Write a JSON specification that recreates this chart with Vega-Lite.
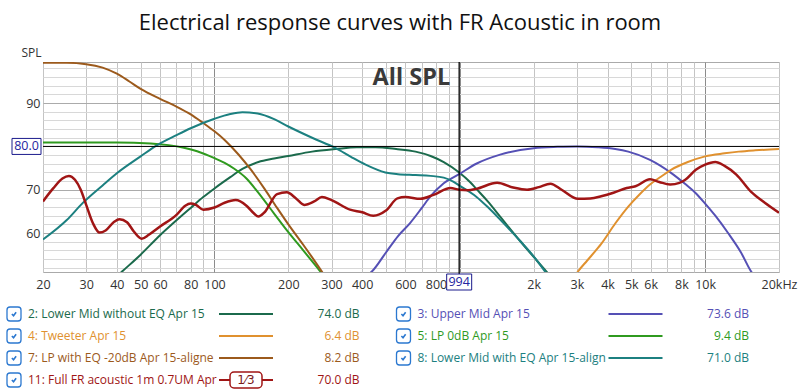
{
  "$schema": "https://vega.github.io/schema/vega-lite/v6.json",
  "width": 736,
  "height": 210,
  "autosize": {"type": "none"},
  "padding": {"left": 43, "top": 62, "right": 21, "bottom": 120},
  "title": {"text": "Electrical response curves with FR Acoustic in room", "font": "Open Sans", "fontSize": 22, "fontWeight": "normal", "color": "#111111", "anchor": "middle", "dx": -11, "dy": 23, "offset": 17, "baseline": "alphabetic"},
  "config": {"view": {"stroke": "#aaaaaa"}, "font": "Open Sans"},
  "datasets": {
    "cursor": [{"f": 994, "db": 80}],
    "legend": [
      {"s": "2", "name": "2: Lower Mid without EQ Apr 15", "val": "74.0 dB", "col": 0, "row": 0},
      {"s": "4", "name": "4: Tweeter Apr 15", "val": "6.4 dB", "col": 0, "row": 1},
      {"s": "7", "name": "7: LP with EQ -20dB Apr 15-aligne", "val": "8.2 dB", "col": 0, "row": 2},
      {"s": "11", "name": "11: Full FR acoustic 1m 0.7UM Apr", "val": "70.0 dB", "col": 0, "row": 3, "badge": "1⁄3"},
      {"s": "3", "name": "3: Upper Mid Apr 15", "val": "73.6 dB", "col": 1, "row": 0},
      {"s": "5", "name": "5: LP 0dB Apr 15", "val": "9.4 dB", "col": 1, "row": 1},
      {"s": "8", "name": "8: Lower Mid with EQ Apr 15-align", "val": "71.0 dB", "col": 1, "row": 2}
    ],
    "curves": [
      {"s":"2","f":40,"db":50.0},{"s":"2","f":42,"db":51.1},{"s":"2","f":50,"db":55.0},{"s":"2","f":60,"db":59.5},{"s":"2","f":68,"db":62.3},{"s":"2","f":80,"db":65.8},{"s":"2","f":90,"db":68.3},{"s":"2","f":100,"db":70.3},{"s":"2","f":116,"db":72.9},{"s":"2","f":130,"db":74.8},{"s":"2","f":151,"db":76.4},{"s":"2","f":175,"db":77.2},{"s":"2","f":200,"db":77.8},{"s":"2","f":250,"db":78.8},{"s":"2","f":312,"db":79.4},{"s":"2","f":380,"db":79.8},{"s":"2","f":453,"db":79.8},{"s":"2","f":550,"db":79.4},{"s":"2","f":660,"db":78.8},{"s":"2","f":760,"db":77.8},{"s":"2","f":860,"db":76.4},{"s":"2","f":994,"db":74.0},{"s":"2","f":1100,"db":71.8},{"s":"2","f":1167,"db":70.2},{"s":"2","f":1300,"db":67.3},{"s":"2","f":1460,"db":63.8},{"s":"2","f":1765,"db":58.1},{"s":"2","f":2000,"db":54.5},{"s":"2","f":2256,"db":51.1},{"s":"2","f":2400,"db":49.5},
      {"s":"3","f":400,"db":49.5},{"s":"3","f":438,"db":51.1},{"s":"3","f":500,"db":55.5},{"s":"3","f":560,"db":59.3},{"s":"3","f":627,"db":62.3},{"s":"3","f":700,"db":65.8},{"s":"3","f":760,"db":68.5},{"s":"3","f":860,"db":71.5},{"s":"3","f":994,"db":73.6},{"s":"3","f":1167,"db":76.0},{"s":"3","f":1460,"db":78.1},{"s":"3","f":2000,"db":79.6},{"s":"3","f":2500,"db":79.9},{"s":"3","f":3000,"db":80.0},{"s":"3","f":3650,"db":79.8},{"s":"3","f":4300,"db":79.4},{"s":"3","f":4860,"db":78.8},{"s":"3","f":5960,"db":76.9},{"s":"3","f":7260,"db":73.9},{"s":"3","f":8300,"db":71.3},{"s":"3","f":9160,"db":69.2},{"s":"3","f":10000,"db":66.8},{"s":"3","f":11000,"db":64.0},{"s":"3","f":12400,"db":60.0},{"s":"3","f":14000,"db":55.5},{"s":"3","f":15400,"db":51.1},{"s":"3","f":16200,"db":49.5},
      {"s":"4","f":2900,"db":49.5},{"s":"4","f":3030,"db":51.1},{"s":"4","f":3300,"db":53.6},{"s":"4","f":3650,"db":56.5},{"s":"4","f":3770,"db":57.5},{"s":"4","f":4300,"db":62.2},{"s":"4","f":4860,"db":66.1},{"s":"4","f":5400,"db":68.9},{"s":"4","f":5960,"db":71.2},{"s":"4","f":6600,"db":73.0},{"s":"4","f":7260,"db":74.6},{"s":"4","f":8500,"db":76.4},{"s":"4","f":10000,"db":77.7},{"s":"4","f":12000,"db":78.4},{"s":"4","f":13700,"db":78.8},{"s":"4","f":16000,"db":79.1},{"s":"4","f":20000,"db":79.4},
      {"s":"5","f":20,"db":80.9},{"s":"5","f":40,"db":80.9},{"s":"5","f":55,"db":80.7},{"s":"5","f":65,"db":80.3},{"s":"5","f":75,"db":79.7},{"s":"5","f":85,"db":78.9},{"s":"5","f":100,"db":77.3},{"s":"5","f":110,"db":76.2},{"s":"5","f":120,"db":74.9},{"s":"5","f":135,"db":72.6},{"s":"5","f":150,"db":69.5},{"s":"5","f":175,"db":64.5},{"s":"5","f":200,"db":60.2},{"s":"5","f":230,"db":56.0},{"s":"5","f":260,"db":52.3},{"s":"5","f":290,"db":48.8},
      {"s":"7","f":20,"db":99.3},{"s":"7","f":25,"db":99.3},{"s":"7","f":30,"db":99.0},{"s":"7","f":35,"db":98.2},{"s":"7","f":40,"db":96.8},{"s":"7","f":45,"db":95.0},{"s":"7","f":50,"db":93.3},{"s":"7","f":60,"db":91.0},{"s":"7","f":70,"db":89.2},{"s":"7","f":80,"db":87.4},{"s":"7","f":90,"db":85.4},{"s":"7","f":100,"db":83.5},{"s":"7","f":110,"db":81.5},{"s":"7","f":125,"db":78.2},{"s":"7","f":140,"db":74.8},{"s":"7","f":160,"db":70.2},{"s":"7","f":180,"db":65.8},{"s":"7","f":200,"db":62.0},{"s":"7","f":230,"db":57.3},{"s":"7","f":260,"db":53.0},{"s":"7","f":290,"db":49.0},
      {"s":"8","f":20,"db":58.5},{"s":"8","f":25,"db":63.0},{"s":"8","f":29,"db":66.9},{"s":"8","f":35,"db":71.0},{"s":"8","f":40,"db":73.8},{"s":"8","f":50,"db":77.7},{"s":"8","f":58,"db":80.2},{"s":"8","f":70,"db":82.6},{"s":"8","f":80,"db":84.2},{"s":"8","f":100,"db":86.4},{"s":"8","f":116,"db":87.5},{"s":"8","f":130,"db":87.9},{"s":"8","f":150,"db":87.6},{"s":"8","f":175,"db":86.3},{"s":"8","f":200,"db":84.6},{"s":"8","f":250,"db":82.0},{"s":"8","f":312,"db":79.6},{"s":"8","f":360,"db":77.6},{"s":"8","f":413,"db":75.8},{"s":"8","f":497,"db":74.0},{"s":"8","f":560,"db":73.6},{"s":"8","f":660,"db":73.4},{"s":"8","f":760,"db":73.2},{"s":"8","f":860,"db":72.8},{"s":"8","f":940,"db":71.9},{"s":"8","f":994,"db":71.0},{"s":"8","f":1167,"db":68.4},{"s":"8","f":1300,"db":66.0},{"s":"8","f":1460,"db":63.1},{"s":"8","f":1765,"db":58.1},{"s":"8","f":2000,"db":54.6},{"s":"8","f":2200,"db":51.5},{"s":"8","f":2300,"db":50.0},
      {"s":"11","f":20,"db":67.3},{"s":"11","f":22,"db":70.3},{"s":"11","f":24,"db":72.6},{"s":"11","f":25.5,"db":73.2},{"s":"11","f":27,"db":72.3},{"s":"11","f":28.5,"db":70.0},{"s":"11","f":30,"db":66.5},{"s":"11","f":32,"db":62.2},{"s":"11","f":34,"db":60.1},{"s":"11","f":36,"db":60.6},{"s":"11","f":39,"db":62.6},{"s":"11","f":41,"db":63.2},{"s":"11","f":44,"db":62.5},{"s":"11","f":47,"db":60.3},{"s":"11","f":50.5,"db":58.7},{"s":"11","f":54,"db":59.6},{"s":"11","f":60,"db":61.5},{"s":"11","f":70,"db":64.2},{"s":"11","f":76,"db":66.3},{"s":"11","f":80,"db":66.8},{"s":"11","f":84,"db":66.5},{"s":"11","f":90,"db":65.4},{"s":"11","f":100,"db":65.9},{"s":"11","f":110,"db":67.0},{"s":"11","f":122,"db":67.6},{"s":"11","f":135,"db":66.3},{"s":"11","f":145,"db":64.5},{"s":"11","f":151,"db":63.8},{"s":"11","f":160,"db":64.8},{"s":"11","f":180,"db":69.0},{"s":"11","f":197,"db":69.4},{"s":"11","f":215,"db":68.0},{"s":"11","f":232,"db":66.5},{"s":"11","f":255,"db":67.3},{"s":"11","f":274,"db":68.3},{"s":"11","f":300,"db":67.6},{"s":"11","f":357,"db":65.4},{"s":"11","f":400,"db":64.8},{"s":"11","f":444,"db":64.0},{"s":"11","f":500,"db":65.2},{"s":"11","f":557,"db":68.0},{"s":"11","f":600,"db":68.3},{"s":"11","f":690,"db":67.9},{"s":"11","f":781,"db":68.8},{"s":"11","f":916,"db":70.4},{"s":"11","f":994,"db":70.0},{"s":"11","f":1080,"db":69.9},{"s":"11","f":1167,"db":70.2},{"s":"11","f":1420,"db":71.6},{"s":"11","f":1650,"db":70.5},{"s":"11","f":1880,"db":70.0},{"s":"11","f":2100,"db":70.6},{"s":"11","f":2340,"db":71.4},{"s":"11","f":2600,"db":70.0},{"s":"11","f":3030,"db":67.9},{"s":"11","f":3400,"db":68.0},{"s":"11","f":3770,"db":68.5},{"s":"11","f":4230,"db":69.3},{"s":"11","f":4790,"db":70.4},{"s":"11","f":5200,"db":70.8},{"s":"11","f":5960,"db":72.4},{"s":"11","f":6500,"db":71.8},{"s":"11","f":7200,"db":71.2},{"s":"11","f":7860,"db":71.6},{"s":"11","f":8300,"db":72.3},{"s":"11","f":9160,"db":74.6},{"s":"11","f":10000,"db":75.8},{"s":"11","f":11000,"db":76.4},{"s":"11","f":12000,"db":75.5},{"s":"11","f":13400,"db":73.5},{"s":"11","f":15400,"db":69.5},{"s":"11","f":17500,"db":67.0},{"s":"11","f":20000,"db":64.7}
    ]
  },
  "layer": [
    {
      "data": {"name": "cursor"},
      "mark": {"type": "point", "opacity": 0},
      "encoding": {
        "x": {"field": "f", "type": "quantitative",
          "scale": {"type": "log", "domain": [20, 20000], "nice": false},
          "axis": {"orient": "top", "values": [70, 90, 500, 700, 900, 7000, 9000], "grid": true, "gridColor": "#c4c4c4", "labels": false, "ticks": false, "domain": false, "title": null}},
        "y": {"field": "db", "type": "quantitative",
          "scale": {"domain": [51, 99.5], "nice": false, "zero": false},
          "axis": {"orient": "right", "values": [52,54,56,58,62,64,66,68,72,74,76,78,82,84,86,88,92,94,96,98], "grid": true, "gridColor": "#d8d8d8", "labels": false, "ticks": false, "domain": false, "title": null}}
      }
    },
    {
      "layer": [
        {
          "data": {"name": "curves"},
          "mark": {"type": "line", "clip": true, "interpolate": "monotone"},
          "encoding": {
            "x": {"field": "f", "type": "quantitative",
              "scale": {"type": "log", "domain": [20, 20000], "nice": false},
              "axis": {"values": [20,30,40,50,60,80,100,200,300,400,600,800,1000,2000,3000,4000,5000,6000,8000,10000,20000],
                "labelExpr": "datum.value == 20000 ? '20kHz' : datum.value == 1000 ? '' : datum.value >= 2000 ? (datum.value / 1000) + 'k' : datum.label",
                "grid": true,
                "gridColor": {"condition": {"test": "datum.value == 100 || datum.value == 1000 || datum.value == 10000", "value": "#8c8c8c"}, "value": "#c4c4c4"},
                "ticks": false, "domain": false, "labelFont": "Open Sans", "labelFontSize": 12.5, "labelColor": "#333333", "labelPadding": 6, "labelFlush": false, "labelOverlap": false, "title": null}},
            "y": {"field": "db", "type": "quantitative",
              "scale": {"domain": [51, 99.5], "nice": false, "zero": false},
              "axis": {"values": [60, 70, 80, 90],
                "grid": true, "gridColor": "#ababab",
                "ticks": false, "domain": false, "labelFont": "Open Sans", "labelFontSize": 12.5, "labelColor": "#333333", "labelPadding": 3, "labelOverlap": false,
                "title": "SPL", "titleAngle": 0, "titleAlign": "right", "titleBaseline": "alphabetic", "titleX": -2, "titleY": -6, "titleFont": "Open Sans", "titleFontSize": 12, "titleFontWeight": "normal", "titleColor": "#333333"}},
            "color": {"field": "s", "type": "nominal", "legend": null,
              "scale": {"domain": ["2","3","4","5","7","8","11"], "range": ["#1b6a4c","#5550b5","#e0912f","#2f9a1f","#9c5a1c","#1c8080","#a01515"]}},
            "strokeWidth": {"condition": {"test": "datum.s == '11'", "value": 2.5}, "value": 2}
          }
        },
        {
          "data": {"name": "cursor"},
          "mark": {"type": "rule", "color": "#000000", "strokeWidth": 1},
          "encoding": {"y": {"field": "db", "type": "quantitative"}}
        },
        {
          "data": {"name": "cursor"},
          "mark": {"type": "rule", "color": "#000000", "strokeWidth": 1.3, "y2Offset": 2},
          "encoding": {"x": {"field": "f", "type": "quantitative"}, "y": {"datum": 99.5}, "y2": {"datum": 51}}
        },
        {
          "data": {"name": "cursor"},
          "mark": {"type": "text", "text": "All SPL", "align": "right", "baseline": "alphabetic", "dx": -9, "font": "Open Sans", "fontSize": 23.5, "fontWeight": "bold", "color": "#3a3a3a"},
          "encoding": {"x": {"field": "f", "type": "quantitative"}, "y": {"datum": 94.1}}
        },
        {
          "data": {"name": "cursor"},
          "mark": {"type": "rect", "fill": "#ffffff", "stroke": "#1a1a8c", "strokeWidth": 1, "xOffset": -31, "x2Offset": -2, "yOffset": -8, "y2Offset": 8},
          "encoding": {"x": {"datum": 20}, "x2": {"datum": 20}, "y": {"field": "db", "type": "quantitative"}, "y2": {"field": "db"}}
        },
        {
          "data": {"name": "cursor"},
          "mark": {"type": "text", "align": "center", "baseline": "middle", "dx": -16.5, "font": "Open Sans", "fontSize": 12.5, "color": "#2525a0"},
          "encoding": {"x": {"datum": 20}, "y": {"field": "db", "type": "quantitative"}, "text": {"field": "db", "type": "quantitative", "format": ".1f"}}
        },
        {
          "data": {"name": "cursor"},
          "mark": {"type": "rect", "fill": "#ffffff", "stroke": "#1a1a8c", "strokeWidth": 1, "xOffset": -12.5, "x2Offset": 12.5, "yOffset": 2, "y2Offset": 18},
          "encoding": {"x": {"field": "f", "type": "quantitative"}, "x2": {"field": "f"}, "y": {"datum": 51}, "y2": {"datum": 51}}
        },
        {
          "data": {"name": "cursor"},
          "mark": {"type": "text", "align": "center", "baseline": "middle", "dy": 10, "font": "Open Sans", "fontSize": 12.5, "color": "#2525a0"},
          "encoding": {"x": {"field": "f", "type": "quantitative"}, "y": {"datum": 51}, "text": {"field": "f", "type": "quantitative", "format": "d"}}
        }
      ]
    },
    {
      "data": {"name": "legend"},
      "encoding": {
        "x": {"field": "col", "type": "quantitative", "scale": {"domain": [0, 1], "range": [-29, 360.5], "nice": false, "zero": false}, "axis": null},
        "y": {"field": "row", "type": "quantitative", "scale": {"domain": [0, 3], "range": [252, 318], "nice": false, "zero": false}, "axis": null}
      },
      "layer": [
        {
          "mark": {"type": "rect", "fill": "#ffffff", "stroke": "#2b78d0", "strokeWidth": 1.3, "cornerRadius": 3, "xOffset": -7, "x2Offset": 7, "yOffset": -7, "y2Offset": 7},
          "encoding": {"x2": {"field": "col"}, "y2": {"field": "row"}}
        },
        {
          "mark": {"type": "point", "shape": "M -0.55 0 L -0.12 0.45 L 0.55 -0.45", "filled": false, "stroke": "#2b78d0", "strokeWidth": 1.6, "size": 60, "opacity": 1}
        },
        {
          "mark": {"type": "text", "align": "left", "baseline": "middle", "dx": 14, "font": "Open Sans", "fontSize": 12},
          "encoding": {"text": {"field": "name"}, "color": {"field": "s", "type": "nominal", "legend": null}}
        },
        {
          "mark": {"type": "rule", "strokeWidth": 2.2, "xOffset": 205, "x2Offset": 259},
          "encoding": {"x2": {"field": "col"}, "color": {"field": "s", "type": "nominal", "legend": null}}
        },
        {
          "transform": [{"filter": "isValid(datum.badge)"}],
          "mark": {"type": "rect", "fill": "#ffffff", "stroke": "#a01515", "strokeWidth": 1.5, "cornerRadius": 4, "xOffset": 216, "x2Offset": 248, "yOffset": -8, "y2Offset": 8},
          "encoding": {"x2": {"field": "col"}, "y2": {"field": "row"}}
        },
        {
          "transform": [{"filter": "isValid(datum.badge)"}],
          "mark": {"type": "text", "align": "center", "baseline": "middle", "dx": 232, "font": "DejaVu Sans", "fontSize": 12, "color": "#7a1a1a"},
          "encoding": {"text": {"field": "badge"}}
        },
        {
          "mark": {"type": "text", "align": "right", "baseline": "middle", "dx": 345.5, "font": "Open Sans", "fontSize": 12},
          "encoding": {"text": {"field": "val"}, "color": {"field": "s", "type": "nominal", "legend": null}}
        }
      ]
    }
  ],
  "resolve": {"scale": {"x": "independent", "y": "independent"}}
}
